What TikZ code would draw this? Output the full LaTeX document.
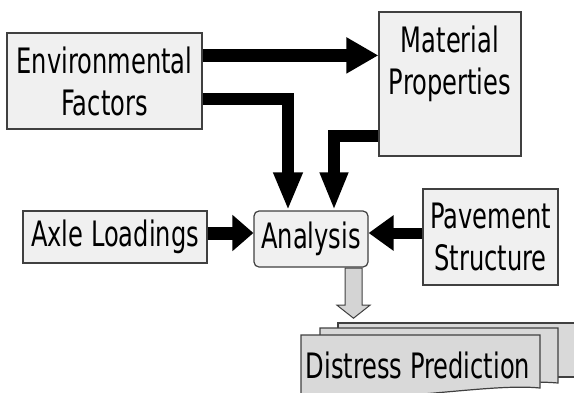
\documentclass[tikz,border=0pt]{standalone}
\usepackage{fontspec}
\setmainfont{DejaVu Sans}[FakeStretch=0.69]
\usetikzlibrary{arrows.meta,calc}
\definecolor{boxfill}{HTML}{F0F0F0}
\definecolor{boxline}{HTML}{404040}
\definecolor{sheetfill}{HTML}{D9D9D9}
\definecolor{grayarrow}{HTML}{D4D4D4}
\begin{document}
\begin{tikzpicture}[x=1pt,y=-1pt,
  box/.style={draw=boxline,fill=boxfill,line width=1.2pt,inner sep=0pt,align=center,font=\fontsize{35}{42}\selectfont},
  lbl/.style={inner sep=0pt,align=center,font=\fontsize{35}{42}\selectfont},
  sheet/.style={draw=boxline,fill=sheetfill,line width=1.2pt},
  bigarrow/.style={draw=black,line join=miter}]
\useasboundingbox (0,0) rectangle (574,392);
% distress stack
\filldraw[sheet] (338,323) -- (580,323) -- (580,377) -- (338,377) -- cycle;
\filldraw[sheet] (320,328) -- (558,328) -- (558,383) .. controls (500,378) and (420,395) .. (320,392) -- cycle;
\filldraw[sheet] (301,335) -- (540,335) -- (540,388) .. controls (490,383) and (400,402) .. (301,398) -- cycle;
\node[lbl,anchor=base] (dist) at (418,378) {Distress Prediction};
% boxes
\node[box,minimum width=195pt,minimum height=96pt] (env) at (104.5,81) {Environmental\\Factors};
\node[box,minimum width=142pt,minimum height=144pt] (mat) at (450,84) {};
\node[lbl,anchor=north] (matt) at ([yshift=-14pt]mat.north) {Material\\Properties};
\node[box,minimum width=184pt,minimum height=52pt] (axle) at (115,237) {Axle Loadings};
\node[box,minimum width=135pt,minimum height=96pt] (pav) at (490.5,237) {Pavement\\Structure};
\node[box,rounded corners=5pt,minimum width=114pt,minimum height=56pt] (ana) at (311,239) {Analysis};
% gray arrow
\filldraw[draw=boxline,fill=grayarrow,line width=1pt] ([xshift=34pt,yshift=-0.6pt]ana.south) -- ++(0,37) -- ++(-8,0) -- ++(16.5,13) -- ++(16.5,-13) -- ++(-8,0) -- ++(0,-37) -- cycle;
% connectors
\coordinate (e1) at ([yshift=-23pt]env.north east);
\draw[bigarrow,line width=13pt,-{Triangle[length=32pt,width=34pt]}] (e1) -- (e1 -| mat.west);
\coordinate (e2) at ([yshift=-67pt]env.north east);
\draw[bigarrow,line width=12pt,-{Triangle[length=38pt,width=27pt]}] (e2) -| ([xshift=-23pt]ana.north);
\coordinate (m1) at ([yshift=-125pt]mat.north west);
\draw[bigarrow,line width=12pt,-{Triangle[length=38pt,width=26pt]}] (m1) -| ([xshift=23pt]ana.north);
\coordinate (a1) at ([yshift=4pt]axle.east);
\draw[bigarrow,line width=13pt,-{Triangle[length=21pt,width=35pt]}] (a1) -- (a1 -| ana.west);
\coordinate (p1) at ([yshift=4pt]pav.west);
\draw[bigarrow,line width=11pt,-{Triangle[length=25pt,width=34pt]}] (p1) -- (p1 -| ana.east);
\end{tikzpicture}
\end{document}
